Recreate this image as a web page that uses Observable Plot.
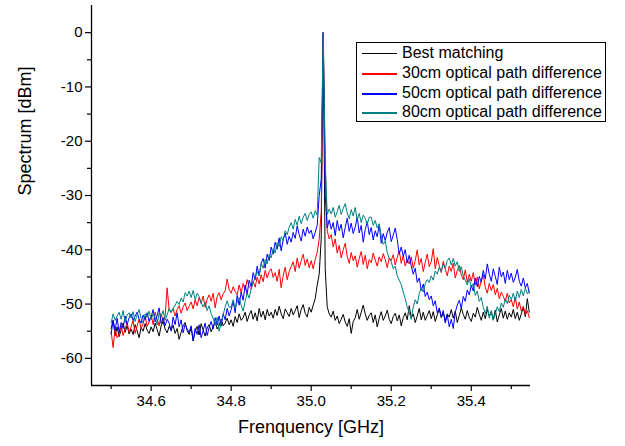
<!DOCTYPE html>
<html>
<head>
<meta charset="utf-8">
<script src="https://cdn.jsdelivr.net/npm/d3@7"></script>
<script src="https://cdn.jsdelivr.net/npm/@observablehq/plot@0.6"></script>
<style>
  html, body { margin: 0; padding: 0; background: #fff; }
  #wrap { position: relative; width: 625px; height: 446px; font-family: "Liberation Sans", Arial, sans-serif; }
  #legend { position: absolute; left: 356px; top: 42px; width: 250px; height: 80px; border: 1px solid #000; background: #fff; box-sizing: border-box; }
  .row { position: absolute; left: 0; height: 20px; line-height: 20px; font-size: 16px; white-space: nowrap; color: #000; }
  .sw { position: absolute; left: 5px; width: 35px; top: 10px; }
  .lb { position: absolute; left: 45px; top: 0; }
</style>
</head>
<body>
<div id="wrap"></div>
<script>
// Frequency sampling (GHz)
const freqStart = 34.5;
const freqStep = 0.005;

const seriesNames = ["Best matching", "30cm optical path difference", "50cm optical path difference", "80cm optical path difference"];
const seriesColors = ["#000000", "#ff0000", "#0000ff", "#008080"];

// Spectrum values (dBm), one per sample
const bestMatching = [
  -54.5, -53.0, -55.8, -54.2, -56.0, -54.8, -53.5, -55.2, -54.0, -55.5,
  -54.6, -55.6, -53.8, -54.9, -56.2, -54.3, -55.0, -53.6, -54.8, -55.4,
  -54.2, -55.1, -53.5, -54.7, -55.9, -54.0, -53.2, -54.6, -55.3, -54.1,
  -54.8, -53.9, -55.4, -54.5, -56.5, -55.2, -54.0, -53.4, -54.9, -55.6,
  -54.3, -56.8, -55.0, -54.1, -55.7, -53.6, -54.8, -55.9, -54.4, -53.8,
  -55.1, -54.2, -53.3, -54.6, -53.9, -52.8, -54.0, -53.5, -52.6, -53.8,
  -52.9, -54.1, -52.3, -53.4, -51.8, -53.0, -52.5, -51.5, -53.2, -52.0,
  -51.2, -52.8, -51.6, -53.1, -50.8, -52.4, -51.3, -52.9, -51.0, -52.2,
  -51.5, -52.6, -51.0, -52.1, -50.4, -51.8, -52.7, -50.9, -51.6, -52.3,
  -50.8, -52.0, -51.2, -50.3, -52.5, -51.0, -50.1, -51.7, -52.4, -50.6,
  -51.5, -50.2, -49.0, -46.5, -44.5, -38.0, 0.0, -43.5, -50.5, -51.8,
  -52.4, -51.3, -53.0, -52.2, -53.6, -52.8, -51.9, -53.3, -54.1, -52.7,
  -55.4, -53.2, -52.5, -51.0, -52.8, -51.5, -50.2, -51.8, -53.0, -52.1,
  -51.6, -53.4, -52.0, -54.2, -52.6, -51.4, -53.0, -52.2, -51.1, -52.8,
  -53.6, -52.3, -51.7, -53.1, -52.0, -54.0, -52.5, -51.6, -52.9, -50.3,
  -52.6, -51.8, -53.4, -52.2, -50.8, -52.9, -51.5, -53.0, -52.1, -51.2,
  -52.7, -51.4, -53.2, -52.0, -50.9, -52.5, -51.6, -53.1, -51.8, -52.4,
  -51.0, -52.6, -51.3, -53.4, -52.1, -50.7, -51.9, -52.8, -51.2, -52.5,
  -53.2, -51.7, -52.4, -50.6, -51.9, -53.0, -51.5, -52.7, -50.9, -52.2,
  -51.4, -52.9, -51.1, -53.3, -52.0, -50.8, -52.6, -51.3, -52.8, -51.6,
  -52.4, -51.0, -52.7, -51.5, -53.0, -51.8, -50.6, -52.3, -49.0, -51.5
];
const opd30cm = [
  -55.0, -58.0, -54.5, -56.2, -55.5, -54.0, -55.8, -54.6, -53.5, -55.2,
  -54.2, -53.0, -55.4, -54.0, -52.8, -54.5, -53.6, -52.2, -54.1, -53.3,
  -52.0, -53.8, -51.5, -52.9, -54.0, -51.8, -53.2, -52.3, -47.0, -51.0,
  -51.6, -50.8, -52.2, -51.0, -50.3, -51.7, -50.5, -49.8, -51.2, -50.4,
  -49.6, -50.9, -49.2, -50.3, -48.8, -49.9, -48.5, -50.6, -49.1, -48.3,
  -49.5, -48.0, -50.7, -48.6, -47.9, -49.2, -48.1, -47.5, -45.4, -47.3,
  -48.0, -46.8, -47.7, -48.3, -46.5, -47.9, -46.2, -47.4, -45.5, -46.8,
  -47.2, -45.8, -46.9, -45.0, -46.3, -44.6, -45.9, -43.8, -45.2, -44.0,
  -43.5, -45.1, -44.2, -45.8, -43.6, -47.0, -44.8, -43.2, -45.5, -44.0,
  -43.1, -42.2, -44.0, -41.5, -43.4, -42.0, -40.8, -42.9, -41.7, -43.3,
  -42.0, -43.5, -41.8, -40.5, -38.0, -33.0, 0.0, -24.5, -36.5, -38.0,
  -37.2, -39.5, -38.0, -40.6, -39.2, -41.5, -40.0, -38.8, -41.2, -42.5,
  -40.5, -42.0, -41.1, -43.2, -41.6, -40.3, -42.7, -41.0, -43.5, -41.8,
  -42.4, -40.6, -41.9, -43.0, -41.3, -42.2, -40.7, -41.8, -43.3, -41.5,
  -42.0, -40.9, -42.8, -41.4, -40.2, -42.5, -41.1, -43.0, -41.8, -42.6,
  -41.3, -43.4, -42.0, -40.0, -42.8, -41.6, -44.0, -42.3, -40.8, -43.1,
  -42.2, -39.8, -43.5, -41.4, -43.0, -44.2, -42.1, -43.6, -44.8, -43.0,
  -44.0, -42.5, -45.2, -43.8, -42.9, -44.6, -45.5, -43.7, -46.0, -44.5,
  -45.8, -44.2, -46.5, -45.0, -47.2, -45.7, -44.6, -46.9, -48.0, -46.2,
  -47.5, -46.4, -48.3, -47.1, -49.0, -47.8, -48.6, -49.5, -48.0, -49.8,
  -49.2, -50.5, -48.7, -50.9, -49.6, -51.3, -50.4, -52.0, -51.2, -52.5
];
const opd50cm = [
  -55.5, -53.0, -54.8, -52.6, -55.2, -53.4, -54.5, -52.2, -53.8, -52.5,
  -51.8, -53.0, -52.2, -51.5, -52.8, -53.5, -52.0, -52.9, -51.6, -53.2,
  -52.4, -51.0, -53.3, -52.1, -50.7, -53.6, -52.5, -54.0, -52.8, -53.5,
  -55.0, -52.4, -53.8, -51.6, -54.2, -52.9, -55.3, -53.7, -54.6, -55.2,
  -54.0, -56.8, -54.5, -55.6, -53.8, -56.2, -54.9, -53.5, -55.8, -54.3,
  -53.2, -54.6, -52.5, -53.9, -52.2, -54.1, -51.8, -52.9, -50.8, -52.2,
  -51.0, -49.5, -51.6, -48.4, -50.2, -47.8, -49.3, -46.5, -48.2, -45.6,
  -46.8, -44.2, -45.5, -43.0, -44.8, -42.5, -41.6, -43.4, -40.8, -42.0,
  -39.5, -40.8, -38.6, -39.9, -37.8, -40.2, -38.2, -36.9, -39.0, -37.5,
  -38.6, -36.8, -37.9, -35.6, -37.2, -38.4, -36.2, -37.5, -35.8, -37.0,
  -36.4, -38.0, -36.8, -35.5, -30.0, -27.0, 0.0, -30.0, -36.0, -34.5,
  -36.2, -35.0, -37.4, -34.6, -36.5, -35.3, -37.8, -35.9, -34.2, -36.6,
  -35.1, -37.0, -35.8, -34.0, -36.9, -35.5, -38.6, -36.3, -34.8, -37.2,
  -35.9, -38.2, -36.5, -37.6, -35.4, -38.8, -37.0, -38.3, -36.8, -35.9,
  -38.5, -37.3, -36.0, -38.1, -40.8, -39.5, -41.2, -40.0, -42.4, -41.0,
  -43.0, -44.5, -43.4, -46.0, -45.2, -47.5, -46.3, -48.6, -47.8, -49.2,
  -48.5, -50.3, -49.4, -51.6, -50.7, -52.4, -51.2, -53.5, -52.0, -54.2,
  -52.8, -54.5, -51.5, -50.2, -49.3, -50.8, -48.6, -49.5, -47.4, -48.3,
  -46.5, -47.6, -45.2, -46.8, -44.9, -46.0, -43.8, -45.4, -42.6, -44.5,
  -45.8, -43.5, -44.9, -46.4, -43.2, -45.0, -44.1, -46.2, -43.8, -45.5,
  -44.3, -46.0, -45.1, -43.6, -45.8, -46.7, -45.2, -47.0, -46.2, -48.0
];
const opd80cm = [
  -53.5, -51.8, -53.0, -52.2, -51.5, -52.8, -51.2, -53.4, -52.0, -51.6,
  -52.6, -51.4, -53.2, -52.0, -51.0, -52.7, -53.5, -51.8, -52.4, -51.3,
  -52.9, -51.7, -52.5, -53.8, -51.6, -52.3, -51.2, -53.0, -52.0, -50.8,
  -51.5, -50.8, -50.2, -49.5, -50.1, -48.9, -49.6, -47.9, -48.5, -47.6,
  -48.8, -47.5, -49.2, -48.0, -48.6, -49.8, -50.5, -49.6, -51.2, -50.3,
  -51.8, -52.6, -53.8, -52.4, -55.0, -53.2, -52.0, -50.5, -49.4, -50.6,
  -50.5, -49.2, -50.8, -49.6, -48.8, -50.2, -51.3, -49.5, -48.0, -48.9,
  -47.2, -46.0, -45.1, -44.0, -44.8, -42.5, -43.4, -41.8, -42.6, -40.9,
  -41.5, -39.8, -40.6, -38.7, -39.4, -37.6, -38.3, -36.5, -37.2, -35.8,
  -35.0, -36.2, -34.4, -35.5, -33.8, -35.2, -34.0, -33.3, -34.6, -33.5,
  -33.0, -34.2, -32.8, -33.6, -23.0, -24.0, 0.0, -23.5, -33.5, -32.5,
  -33.4, -32.2, -34.0, -33.0, -31.8, -33.5, -32.4, -31.5, -33.2, -34.3,
  -32.6, -33.8, -32.2, -34.5, -33.3, -35.0, -33.6, -34.2, -35.3, -34.0,
  -34.0, -35.5, -34.6, -36.0, -35.2, -37.5, -39.0, -38.4, -40.5, -41.6,
  -42.2, -43.5, -43.0, -44.8, -45.6, -46.4, -47.8, -49.0, -50.6, -51.5,
  -52.8, -50.5, -49.2, -50.0, -48.1, -47.0, -47.8, -46.2, -45.5, -46.0,
  -44.8, -45.6, -43.9, -44.5, -43.2, -44.0, -42.6, -43.4, -42.0, -41.5,
  -42.8, -41.6, -43.0, -42.2, -44.0, -43.1, -44.8, -45.6, -46.5, -45.3,
  -47.0, -46.2, -48.4, -47.6, -49.5, -48.8, -50.6, -51.8, -50.4, -52.6,
  -51.2, -53.0, -51.8, -50.5, -51.4, -49.8, -50.6, -49.0, -49.9, -48.4,
  -49.2, -48.0, -49.5, -47.6, -48.8, -47.3, -48.5, -47.0, -48.1, -47.5
];

const xTicks = [34.6, 34.8, 35.0, 35.2, 35.4];
const xMinorTicks = [34.5, 34.7, 34.9, 35.1, 35.3, 35.5];
const yTicks = [-60, -50, -40, -30, -20, -10, 0];
const yMinorTicks = [-55, -45, -35, -25, -15, -5];
const xDomain = [34.451, 35.548];
const yDomain = [-65, 5];
const xLabel = "Frenquency [GHz]";
const yLabel = "Spectrum [dBm]";

const allSeries = [bestMatching, opd30cm, opd50cm, opd80cm];
const tables = allSeries.map((vals, s) =>
  vals.map((v, i) => ({f: freqStart + i * freqStep, v, s}))
);

const font = "Liberation Sans, Arial, sans-serif";

const chart = Plot.plot({
  width: 625,
  height: 446,
  marginLeft: 91,
  marginRight: 95,
  marginTop: 5,
  marginBottom: 61,
  style: {fontFamily: font, fontSize: "15px", color: "#000", background: "#fff", overflow: "visible"},
  x: {domain: xDomain},
  y: {domain: yDomain},
  marks: [
    ...tables.map((t, s) => Plot.line(t, {x: "f", y: "v", stroke: seriesColors[s], strokeWidth: 1})),
    Plot.ruleY([yDomain[0]], {stroke: "#000", strokeWidth: 1.3}),
    Plot.ruleX([xDomain[0]], {stroke: "#000", strokeWidth: 1.3}),
    Plot.axisX(xTicks, {tickSize: 6, tickPadding: 4, fontSize: 15, tickFormat: d => d.toFixed(1), label: null, strokeWidth: 1.2}),
    Plot.axisX(xMinorTicks, {tickSize: 4, tickFormat: () => "", label: null, strokeWidth: 1.2}),
    Plot.axisY(yTicks, {tickSize: 6, tickPadding: 3, fontSize: 15, tickFormat: d => String(d), label: null, strokeWidth: 1.2}),
    Plot.axisY(yMinorTicks, {tickSize: 4, tickFormat: () => "", label: null, strokeWidth: 1.2}),
    Plot.text([xLabel], {frameAnchor: "bottom", dy: 47, fontSize: 18, fill: "#000"}),
    Plot.text([yLabel], {frameAnchor: "left", dx: -66, rotate: -90, fontSize: 18, fill: "#000"})
  ]
});

const wrap = document.getElementById("wrap");
wrap.appendChild(chart);

const legend = document.createElement("div");
legend.id = "legend";
const rowTops = [0, 20, 40, 59];
seriesNames.forEach((name, i) => {
  const row = document.createElement("div");
  row.className = "row";
  row.style.top = rowTops[i] + "px";
  const sw = document.createElement("div");
  sw.className = "sw";
  sw.style.height = (i === 0 ? 1 : 2) + "px";
  sw.style.background = seriesColors[i];
  const lb = document.createElement("div");
  lb.className = "lb";
  lb.textContent = name;
  row.appendChild(sw);
  row.appendChild(lb);
  legend.appendChild(row);
});
wrap.appendChild(legend);
</script>
</body>
</html>
